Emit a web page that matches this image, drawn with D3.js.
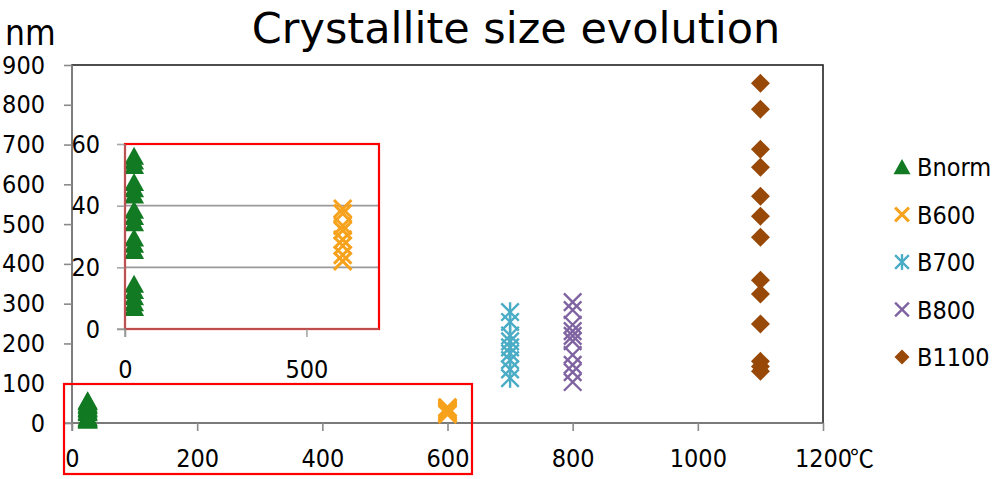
<!DOCTYPE html>
<html><head><meta charset="utf-8">
<script src="https://cdn.jsdelivr.net/npm/d3@7"></script>
<style>
body{margin:0;background:#fff}
svg{display:block}
text{font-family:"DejaVu Sans Condensed","DejaVu Sans",sans-serif;fill:#000}
</style>
</head><body>
<svg id="c" width="1000" height="479"></svg>
<script>
// ---- data ----
const seriesNames = ["Bnorm", "B600", "B700", "B800", "B1100"];
const seriesTemps = [25, 600, 700, 800, 1100];
const bnormValues = [56, 54.5, 53, 47.5, 45.5, 43.5, 38.5, 36.5, 34.5, 29.5, 27.5, 25.5, 14.5, 12.5, 10.5, 8.5, 7];
const b600Values = [39, 37.5, 33.5, 32, 29, 27, 24, 22];
const b700Values = [279, 254, 220, 205, 190, 175, 158, 135, 113];
const b800Values = [304, 284, 247, 231, 219, 206, 171, 146, 128, 103];
const b1100Values = [854, 789, 688, 643, 570, 520, 467, 359, 324, 249, 155, 142, 130];
const mainXTicks = [0, 200, 400, 600, 800, 1000, 1200];
const mainYTicks = [0, 100, 200, 300, 400, 500, 600, 700, 800, 900];
const insetXTicks = [0, 500];
const insetYTicks = [0, 20, 40, 60];
const insetGrid = [20, 40];

const seriesValues = [bnormValues, b600Values, b700Values, b800Values, b1100Values];
const colors = ["#127a23", "#f7a21c", "#4bacc6", "#8064a2", "#984807"];
const shapes = ["triangle", "xbold", "asterisk", "x", "diamond"];

const svg = d3.select("#c");
const axisGray = "#8a8a8a";
const fmt = d3.format("d");

function drawMarker(g, shape, color, s) {
  if (shape === "triangle") {
    g.append("path").attr("d", `M0,${-s*0.95}L${s},${s*0.85}L${-s},${s*0.85}Z`).attr("fill", color);
  } else if (shape === "diamond") {
    g.append("path").attr("d", `M0,${-s}L${s},0L0,${s}L${-s},0Z`).attr("fill", color);
  } else {
    const w = shape === "xbold" ? 3 : 2.4;
    const k = s * 0.92;
    g.append("path").attr("d", `M${-k},${-k}L${k},${k}M${-k},${k}L${k},${-k}`)
      .attr("stroke", color).attr("stroke-width", w).attr("fill", "none");
    if (shape === "asterisk") {
      g.append("path").attr("d", `M0,${-k-1}L0,${k+1}`)
        .attr("stroke", color).attr("stroke-width", w).attr("fill", "none");
    }
  }
}

// ---- title ----
svg.append("text").attr("x", 516).attr("y", 43).attr("text-anchor", "middle")
  .style("font-family", "'DejaVu Sans',sans-serif")
  .style("font-size", "43px").text("Crystallite size evolution");
svg.append("text").attr("x", 5).attr("y", 45).style("font-size", "35px").text("nm");

// ---- main plot ----
const x = d3.scaleLinear().domain([0, 1200]).range([72, 823]);
const y = d3.scaleLinear().domain([0, 900]).range([423, 65]);

svg.append("rect").attr("x", 72).attr("y", 65).attr("width", 751).attr("height", 358)
  .attr("fill", "none").attr("stroke", "#222").attr("stroke-width", 1.6);

const yAx = svg.append("g").attr("transform", "translate(72,0)")
  .call(d3.axisLeft(y).tickValues(mainYTicks).tickFormat(fmt).tickSize(8).tickPadding(19).tickSizeOuter(0));
const xAx = svg.append("g").attr("transform", "translate(0,423)")
  .call(d3.axisBottom(x).tickValues(mainXTicks).tickFormat(fmt).tickSize(8).tickPadding(18).tickSizeOuter(0));
[yAx, xAx].forEach(a => {
  a.selectAll("path,line").attr("stroke", axisGray).attr("stroke-width", 1.6);
  a.selectAll("text").style("font-size", "25px").attr("fill", "#000");
});
yAx.select(".domain").attr("d", "M0,65V431");
xAx.select(".domain").attr("d", "M64,0H823");
svg.append("text").attr("x", 850).attr("y", 467)
  .style("font-family", "'Noto Sans CJK JP','Noto Sans CJK SC',sans-serif")
  .style("font-size", "24px").text("\u2103");

// main points
const mainG = svg.append("g");
seriesValues.forEach((vals, i) => {
  vals.forEach(v => {
    const g = mainG.append("g").attr("transform", `translate(${x(seriesTemps[i])},${y(v)})`);
    drawMarker(g, shapes[i], colors[i], i === 0 ? 10 : 9.5);
  });
});

svg.append("rect").attr("x", 64).attr("y", 384).attr("width", 408).attr("height", 90)
  .attr("fill", "none").attr("stroke", "#ff0000").attr("stroke-width", 2.2);

// ---- inset ----
const ix = d3.scaleLinear().domain([0, 700]).range([125, 379]);
const iy = d3.scaleLinear().domain([0, 60]).range([329, 144]);

svg.append("defs").append("clipPath").attr("id", "ic")
  .append("rect").attr("x", 125).attr("y", 134).attr("width", 254).attr("height", 195);

const inset = svg.append("g");
inset.selectAll("line.grid").data(insetGrid).join("line").attr("class", "grid")
  .attr("x1", 125).attr("x2", 379).attr("y1", d => iy(d)).attr("y2", d => iy(d))
  .attr("stroke", "#9a9a9a").attr("stroke-width", 1.6);

const ipts = inset.append("g").attr("clip-path", "url(#ic)");
seriesValues.forEach((vals, i) => {
  vals.forEach(v => {
    if (seriesTemps[i] > 700 || v > 60) return;
    const g = ipts.append("g").attr("transform", `translate(${ix(seriesTemps[i])},${iy(v)})`);
    drawMarker(g, shapes[i], colors[i], i === 0 ? 10 : 9.5);
  });
});

inset.append("rect").attr("x", 125).attr("y", 144).attr("width", 254).attr("height", 185)
  .attr("fill", "none").attr("stroke", "#ff0000").attr("stroke-width", 2.2);

const iyAx = inset.append("g").attr("transform", "translate(125,0)")
  .call(d3.axisLeft(iy).tickValues(insetYTicks).tickFormat(fmt).tickSize(8).tickPadding(17).tickSizeOuter(0));
const ixAx = inset.append("g").attr("transform", "translate(0,329)")
  .call(d3.axisBottom(ix).tickValues(insetXTicks).tickFormat(fmt).tickSize(8).tickPadding(23).tickSizeOuter(0));
[iyAx, ixAx].forEach(a => {
  a.selectAll("path,line").attr("stroke", axisGray).attr("stroke-width", 1.6).attr("stroke-opacity", 0.75);
  a.selectAll("text").style("font-size", "25px").attr("fill", "#000");
});
iyAx.select(".domain").attr("d", "M0,144V337");
ixAx.select(".domain").attr("d", "M117,0H379");

// ---- legend ----
const legend = svg.append("g");
seriesNames.forEach((name, i) => {
  const cy = 167 + i * 47.5;
  const g = legend.append("g").attr("transform", `translate(902,${cy})`);
  drawMarker(g, shapes[i], colors[i], i === 0 ? 8.5 : 7.5);
  legend.append("text").attr("x", 917).attr("y", cy).attr("dy", "0.36em")
    .style("font-size", "25px").text(name);
});
</script>
</body></html>
